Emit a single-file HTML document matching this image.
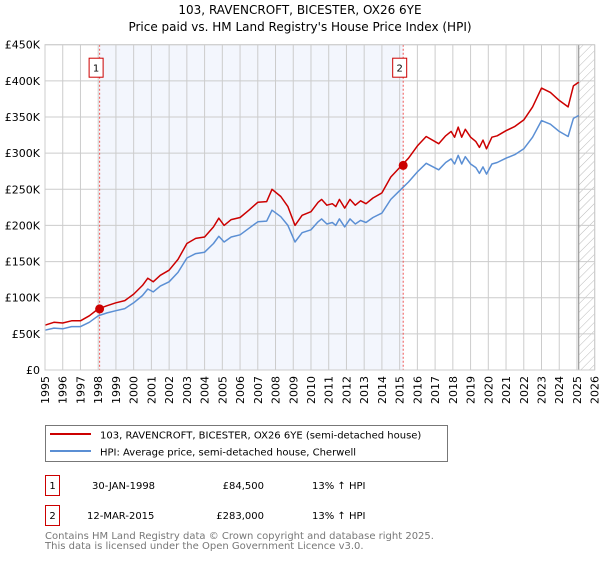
<!DOCTYPE html>
<html><head><meta charset="utf-8"><style>
body{margin:0;background:#fff;font-family:"DejaVu Sans","Liberation Sans",sans-serif;}
text{font-family:"DejaVu Sans","Liberation Sans",sans-serif;}
</style></head><body>
<svg id="chart" width="600" height="560" viewBox="0 0 600 560">
<defs><pattern id="hatch" width="6" height="6" patternUnits="userSpaceOnUse" patternTransform="rotate(45)"><line x1="0" y1="0" x2="0" y2="6" stroke="#bbb" stroke-width="1"/></pattern></defs>
<text x="300" y="14" font-size="12" text-anchor="middle">103, RAVENCROFT, BICESTER, OX26 6YE</text>
<text x="300" y="31" font-size="12" text-anchor="middle">Price paid vs. HM Land Registry's House Price Index (HPI)</text>
<g id="plot"></g>
<g>
<rect x="45.5" y="425.5" width="402" height="36" fill="#fff" stroke="#777"/>
<line x1="50" y1="434" x2="91" y2="434" stroke="#cc0000" stroke-width="2"/>
<text x="100" y="438.5" font-size="10">103, RAVENCROFT, BICESTER, OX26 6YE (semi-detached house)</text>
<line x1="50" y1="451" x2="91" y2="451" stroke="#5b8fd4" stroke-width="2"/>
<text x="100" y="455.5" font-size="10">HPI: Average price, semi-detached house, Cherwell</text>
</g>
<g font-size="10">
<rect x="45.5" y="475.5" width="14" height="20" fill="#fff" stroke="#c00"/>
<text x="52.5" y="489" text-anchor="middle">1</text>
<text x="92" y="489">30-JAN-1998</text>
<text x="264" y="489" text-anchor="end">£84,500</text>
<text x="312" y="489">13% ↑ HPI</text>
<rect x="45.5" y="505.5" width="14" height="20" fill="#fff" stroke="#c00"/>
<text x="52.5" y="519" text-anchor="middle">2</text>
<text x="87" y="519">12-MAR-2015</text>
<text x="264" y="519" text-anchor="end">£283,000</text>
<text x="312" y="519">13% ↑ HPI</text>
</g>
<text x="45" y="539" font-size="10" fill="#777">Contains HM Land Registry data © Crown copyright and database right 2025.</text>
<text x="45" y="549" font-size="10" fill="#777">This data is licensed under the Open Government Licence v3.0.</text>
</svg>
<script>
const years=[1995,1995.5,1996,1996.5,1997,1997.5,1998,1998.5,1999,1999.5,2000,2000.5,2000.8,2001.1,2001.5,2002,2002.5,2003,2003.5,2004,2004.5,2004.8,2005.1,2005.5,2006,2006.5,2007,2007.5,2007.8,2008.3,2008.7,2009.1,2009.5,2010,2010.4,2010.6,2010.9,2011.2,2011.4,2011.6,2011.9,2012.2,2012.5,2012.8,2013.1,2013.5,2014,2014.5,2015,2015.5,2016,2016.5,2017.2,2017.6,2017.9,2018.1,2018.3,2018.5,2018.7,2019,2019.3,2019.5,2019.7,2019.9,2020.2,2020.5,2021,2021.5,2022,2022.5,2023,2023.5,2024,2024.5,2024.8,2025.1];
const hpiValues=[55,58,57,60,60,66,75,79,82,85,93,103,112,108,116,122,135,155,161,163,175,185,177,184,187,196,205,206,221,212,200,177,190,194,205,209,202,204,200,209,198,209,202,207,204,211,217,236,248,260,274,286,277,287,292,285,297,285,295,285,280,272,281,271,285,287,293,298,306,322,345,340,330,323,348,352];
const paidValues=[62,66,65,68,68,75,84.5,89,93,96,105,117,127,122,131,138,153,175,182,184,198,210,200,208,211,221,232,233,250,240,226,200,214,219,232,236,228,230,226,236,224,236,228,234,230,238,245,267,280,293,310,323,313,324,330,322,336,322,333,322,316,308,318,306,322,324,331,337,346,364,390,384,373,364,393,398];
const sales=[{t:1998.08,v:84.5,label:"1"},{t:2015.2,v:283,label:"2"}];
const yTicks=[0,50,100,150,200,250,300,350,400,450];
const yTickLabels=["£0","£50K","£100K","£150K","£200K","£250K","£300K","£350K","£400K","£450K"];
const xYears=[1995,1996,1997,1998,1999,2000,2001,2002,2003,2004,2005,2006,2007,2008,2009,2010,2011,2012,2013,2014,2015,2016,2017,2018,2019,2020,2021,2022,2023,2024,2025,2026];
const L=45,R=594.7,T=44.7,B=370,x0=1995,x1=2026,yMax=450,dataEnd=2025.1;
const X=t=>L+(t-x0)/(x1-x0)*(R-L);
const Y=v=>B-v/yMax*(B-T);
const NS="http://www.w3.org/2000/svg";
const g=document.getElementById('plot');
function mk(tag,attrs,parent){const e=document.createElementNS(NS,tag);for(const k in attrs)e.setAttribute(k,attrs[k]);(parent||g).appendChild(e);return e;}
let e=mk('rect',{x:X(sales[0].t),y:T,width:X(sales[1].t)-X(sales[0].t),height:B-T,fill:'#f3f6fd'});

e=mk('rect',{x:X(dataEnd),y:T,width:R-X(dataEnd),height:B-T,fill:'url(#hatch)'});

xYears.forEach(yr=>{const ln=mk('line',{x1:X(yr),x2:X(yr),y1:T,y2:B,stroke:'#ccc','stroke-width':1});

const tx=mk('text',{x:0,y:0,'font-size':11,'text-anchor':'end',transform:`translate(${X(yr)+4},${B+6}) rotate(-90)`});
tx.textContent=yr;});
yTicks.forEach((v,i)=>{const ln=mk('line',{x1:L,x2:R,y1:Y(v),y2:Y(v),stroke:'#ccc','stroke-width':1});

const tx=mk('text',{x:L-5,y:Y(v)+4,'font-size':11,'text-anchor':'end'});
tx.textContent=yTickLabels[i];});
e=mk('line',{x1:X(dataEnd),x2:X(dataEnd),y1:T,y2:B,stroke:'#888','stroke-width':1});

sales.forEach(s=>{const ln=mk('line',{x1:X(s.t),x2:X(s.t),y1:T,y2:B,stroke:'#e55','stroke-width':1,'stroke-dasharray':'2,2'});

const bx=mk('rect',{x:X(s.t)-10.5,y:T+13.5,width:14,height:19,fill:'#fff',stroke:'#c00'});

const tx=mk('text',{x:X(s.t)-3.5,y:T+27,'font-size':10,'text-anchor':'middle'});
tx.textContent=s.label;});
function path(vals,color,name){const d=vals.map((v,i)=>(i?'L':'M')+X(years[i]).toFixed(1)+','+Y(v).toFixed(1)).join('');
const p=mk('path',{d,fill:'none',stroke:color,'stroke-width':1.5,'stroke-linejoin':'round'});
}
path(hpiValues,'#5b8fd4','hpi-line');
path(paidValues,'#cc0000','price-paid-line');
sales.forEach(s=>{const c=mk('circle',{cx:X(s.t),cy:Y(s.v),r:4.5,fill:'#cc0000'});
});
e=mk('rect',{x:L,y:T,width:R-L,height:B-T,fill:'none',stroke:'#ccc'});

</script>
</body></html>
